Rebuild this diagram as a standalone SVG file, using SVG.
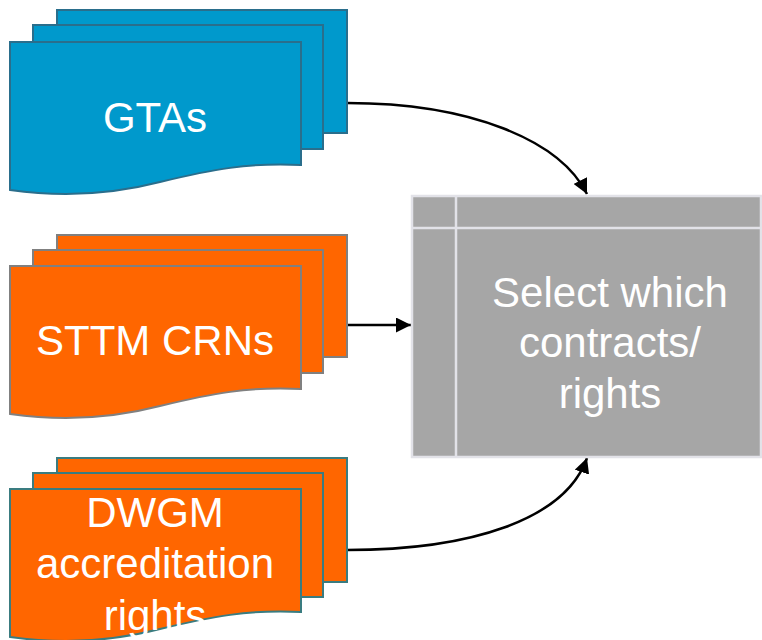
<svg xmlns="http://www.w3.org/2000/svg" width="762" height="640" viewBox="0 0 762 640">
<defs>
<style>
.lbl{font-family:"Liberation Sans",Arial,sans-serif;font-size:42px;fill:#FFFFFF;text-anchor:middle}
.blue{fill:#0099CC;stroke:#2A6E8C;stroke-width:2}
.org1{fill:#FF6600;stroke:#808080;stroke-width:2}
.org2{fill:#FF6600;stroke:#3A7C80;stroke-width:2}
.conn{fill:none;stroke:#000000;stroke-width:2.5}
</style>
<path id="doc" d="M0,0 H291 V123 C240,120 200,128 150,140 C100,153 50,155 0,148 Z"/>
<marker id="ah" viewBox="0 0 10 10" refX="10" refY="5" markerWidth="6" markerHeight="6" orient="auto" markerUnits="strokeWidth">
<path d="M0,0 L10,5 L0,10 Z" fill="#000000"/>
</marker>
</defs>
<rect width="762" height="640" fill="#FFFFFF"/>
<g id="connectors">
<path class="conn" d="M347,103 C470,103 560,140 587,194" marker-end="url(#ah)"/>
<path class="conn" d="M347,325 L411,325" marker-end="url(#ah)"/>
<path class="conn" d="M347,550 C470,550 565,520 587,458" marker-end="url(#ah)"/>
</g>
<g id="gtas">
<rect class="blue" x="57" y="10" width="290" height="123"/>
<rect class="blue" x="33" y="25" width="290" height="124"/>
<use href="#doc" class="blue" x="10" y="42"/>
<text class="lbl" x="155" y="132">GTAs</text>
</g>
<g id="sttm">
<rect class="org1" x="57" y="235" width="290" height="122"/>
<rect class="org1" x="33" y="250" width="290" height="123"/>
<use href="#doc" class="org1" x="10" y="266"/>
<text class="lbl" x="155" y="355">STTM CRNs</text>
</g>
<g id="dwgm">
<rect class="org2" x="57" y="458" width="290" height="124"/>
<rect class="org2" x="33" y="473" width="290" height="124"/>
<use href="#doc" class="org2" x="10" y="489"/>
<text class="lbl" x="155" y="527">DWGM</text>
<text class="lbl" x="155" y="578">accreditation</text>
<text class="lbl" x="155" y="630">rights</text>
</g>
<g id="select">
<rect x="412" y="196" width="349" height="261" fill="#A6A6A6" stroke="#E2E2E8" stroke-width="2.5"/>
<line x1="456" y1="196" x2="456" y2="457" stroke="#E2E2E8" stroke-width="2.5"/>
<line x1="412" y1="228" x2="761" y2="228" stroke="#E2E2E8" stroke-width="2.5"/>
<text class="lbl" x="610" y="307">Select which</text>
<text class="lbl" x="610" y="357">contracts/</text>
<text class="lbl" x="610" y="408">rights</text>
</g>
</svg>
